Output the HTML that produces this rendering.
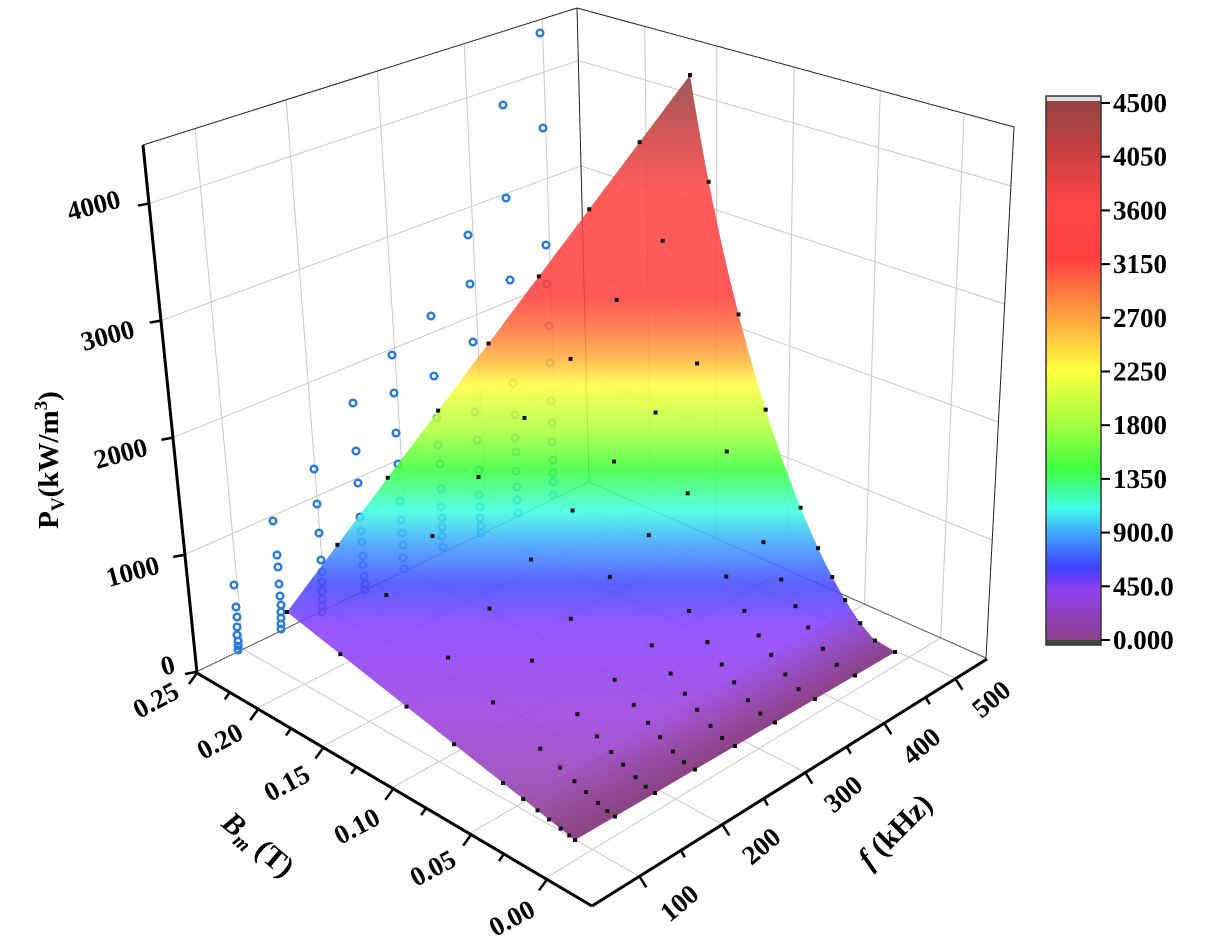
<!DOCTYPE html>
<html><head><meta charset="utf-8"><style>
html,body{margin:0;padding:0;background:#fff;}
svg{display:block;font-family:"Liberation Serif",serif;font-weight:bold;}
</style></head><body>
<svg id="s" width="1208" height="948" viewBox="0 0 1208 948" xmlns="http://www.w3.org/2000/svg">
<defs>
<linearGradient id="surf" gradientUnits="userSpaceOnUse" x1="0" y1="75" x2="0" y2="840">
<stop offset="0" stop-color="#8e4444"/><stop offset="0.072" stop-color="#c84040"/><stop offset="0.15" stop-color="#ff4545"/>
<stop offset="0.29" stop-color="#ff4040"/><stop offset="0.33" stop-color="#ff7040"/><stop offset="0.37" stop-color="#ffb040"/>
<stop offset="0.405" stop-color="#ffff40"/><stop offset="0.464" stop-color="#b0ff40"/><stop offset="0.516" stop-color="#40ff40"/>
<stop offset="0.569" stop-color="#40ffe0"/><stop offset="0.614" stop-color="#40a0ff"/><stop offset="0.667" stop-color="#4848ff"/>
<stop offset="0.725" stop-color="#8a40ff"/><stop offset="0.843" stop-color="#9c40dc"/><stop offset="1" stop-color="#8c4090"/>
</linearGradient>
<linearGradient id="edge" gradientUnits="userSpaceOnUse" x1="735" y1="746" x2="703" y2="692">
<stop offset="0" stop-color="#8a4282" stop-opacity="0.95"/><stop offset="1" stop-color="#8a4282" stop-opacity="0"/>
</linearGradient>
<linearGradient id="cb" x1="0" y1="0" x2="0" y2="1">
<stop offset="0" stop-color="#8e4444"/><stop offset="0.1" stop-color="#c84040"/><stop offset="0.2" stop-color="#ff4545"/>
<stop offset="0.3" stop-color="#ff4040"/><stop offset="0.33" stop-color="#ff6040"/><stop offset="0.4" stop-color="#ffa040"/>
<stop offset="0.5" stop-color="#ffff40"/><stop offset="0.6" stop-color="#a0ff40"/><stop offset="0.68" stop-color="#40ff40"/>
<stop offset="0.75" stop-color="#40ffe8"/><stop offset="0.8" stop-color="#40a0ff"/><stop offset="0.86" stop-color="#4040ff"/>
<stop offset="0.9" stop-color="#9040f0"/><stop offset="1" stop-color="#8a4080"/>
</linearGradient>
</defs>
<g id="grid" stroke="#c8c8c8" stroke-width="1" fill="none"></g>
<g id="box" stroke="#222" stroke-width="1" fill="none">
<line x1="143" y1="145" x2="577" y2="8"/><line x1="577" y1="8" x2="1014" y2="127"/>
<line x1="577" y1="8" x2="589" y2="482"/><line x1="1014" y1="127" x2="986" y2="658"/>
<line x1="196" y1="672" x2="589" y2="482" stroke="#555"/><line x1="589" y1="482" x2="986" y2="658" stroke="#555"/>
</g>
<g id="circ" fill="none" stroke="#2a7be0" stroke-width="2.5"></g>
<g id="surfg"></g>
<g id="dots" fill="#111"></g>
<g id="axes" stroke="#000" stroke-width="3" fill="none">
<line x1="143" y1="145" x2="197" y2="673"/>
<line x1="197" y1="673" x2="592" y2="906"/>
<line x1="592" y1="906" x2="987" y2="659"/>
</g>
<g id="ticks" stroke="#000" stroke-width="2.5"></g>
<g font-size="27" fill="#000">
<text transform="translate(170,674) rotate(-15)" text-anchor="middle">0</text>
<text transform="translate(135,580) rotate(-15)" text-anchor="middle">1000</text>
<text transform="translate(123,462) rotate(-15)" text-anchor="middle">2000</text>
<text transform="translate(110,344) rotate(-15)" text-anchor="middle">3000</text>
<text transform="translate(96,214) rotate(-15)" text-anchor="middle">4000</text>
<text transform="translate(58,460) rotate(-90)" text-anchor="middle" font-size="29">P<tspan font-size="19" dy="6">V</tspan><tspan dy="-6">(kW/m</tspan><tspan font-size="19" dy="-11">3</tspan><tspan dy="11">)</tspan></text>
<text transform="translate(160,708) rotate(-28)" text-anchor="middle">0.25</text>
<text transform="translate(224,749) rotate(-28)" text-anchor="middle">0.20</text>
<text transform="translate(291,791) rotate(-28)" text-anchor="middle">0.15</text>
<text transform="translate(361,834) rotate(-28)" text-anchor="middle">0.10</text>
<text transform="translate(437,876) rotate(-28)" text-anchor="middle">0.05</text>
<text transform="translate(516,926) rotate(-28)" text-anchor="middle">0.00</text>
<text transform="translate(252,852) rotate(40)" text-anchor="middle" font-size="30"><tspan font-style="italic">B</tspan><tspan font-size="20" dy="6" font-style="italic">m</tspan><tspan dy="-6"> (T)</tspan></text>
<text transform="translate(685,910) rotate(-40)" text-anchor="middle">100</text>
<text transform="translate(767,853) rotate(-40)" text-anchor="middle">200</text>
<text transform="translate(849,801) rotate(-40)" text-anchor="middle">300</text>
<text transform="translate(927,753) rotate(-40)" text-anchor="middle">400</text>
<text transform="translate(997,706) rotate(-40)" text-anchor="middle">500</text>
<text transform="translate(902,838) rotate(-45)" text-anchor="middle" font-size="30"><tspan font-style="italic">f</tspan> (kHz)</text>
</g>
<rect x="1046" y="96" width="55" height="549" fill="url(#cb)"/>
<rect x="1046" y="96" width="55" height="5" fill="#ddd"/>
<rect x="1046" y="640" width="55" height="5" fill="#444"/>
<rect x="1046" y="96" width="55" height="549" fill="none" stroke="#333" stroke-width="1.5"/>
<g id="cbt" font-size="27"></g>
</svg>
<script>
var NS="http://www.w3.org/2000/svg";
function el(p,t,a){var e=document.createElementNS(NS,t);for(var k in a)e.setAttribute(k,a[k]);document.getElementById(p).appendChild(e);return e;}
function L(a,b,t){return [a[0]+(b[0]-a[0])*t,a[1]+(b[1]-a[1])*t];}
var Lc=[196,672],F=[590,905],K=[589,482],R=[986,658],Lt=[143,145],Kt=[577,8],Rt=[1014,127];
function floor(u,v){var a=L(Lc,K,v),b=L(F,R,v);return L(a,b,u);}
var vt=[0.12,0.33,0.54,0.74,0.92],ut=[0.155,0.32,0.497,0.694,0.886];
vt.forEach(function(v){var b=floor(0,v),t=L(Lt,Kt,v);el("grid","line",{x1:b[0],y1:b[1],x2:t[0],y2:t[1]});
 var c=floor(1,v);el("grid","line",{x1:b[0],y1:b[1],x2:c[0],y2:c[1]});});
ut.forEach(function(u){var b=floor(u,1),t=L(Kt,Rt,u);el("grid","line",{x1:b[0],y1:b[1],x2:t[0],y2:t[1]});
 var c=floor(u,0);el("grid","line",{x1:b[0],y1:b[1],x2:c[0],y2:c[1]});});
[1,2,3,4].forEach(function(z){var c=z/4.5;var a=L(Lc,Lt,c),b=L(K,Kt,c),r=L(R,Rt,c);
 el("grid","line",{x1:a[0],y1:a[1],x2:b[0],y2:b[1]});el("grid","line",{x1:b[0],y1:b[1],x2:r[0],y2:r[1]});
});
[0,1,2,3,4].forEach(function(z){var p=L(Lc,Lt,z/4.5);el("ticks","line",{x1:p[0],y1:p[1],x2:p[0]-11,y2:p[1]+2});});
[0,0.155,0.32,0.497,0.694,0.886].forEach(function(u,i){var p=L([197,673],[592,906],u);el("ticks","line",{x1:p[0],y1:p[1],x2:p[0]-8,y2:p[1]+11});
 if(i<5){var q=L([197,673],[592,906],u+0.083);el("ticks","line",{x1:q[0],y1:q[1],x2:q[0]-5,y2:q[1]+7});}});
[0.12,0.33,0.54,0.74,0.92].forEach(function(v){var p=L([592,906],[987,659],v);el("ticks","line",{x1:p[0],y1:p[1],x2:p[0]+7,y2:p[1]+11});
 var q=L([592,906],[987,659],v+0.105);if(v<0.9)el("ticks","line",{x1:q[0],y1:q[1],x2:q[0]+4,y2:q[1]+7});});
var cols=[
[[234,585],[236,607],[237,617],[237,627],[237,635],[238,641],[238,646],[238,650]],
[[273,521],[277,555],[278,567],[279,584],[280,596],[281,605],[281,612],[281,618],[281,624],[281,629]],
[[314,469],[317,504],[319,533],[321,560],[322,572],[322,582],[322,591],[322,599],[322,606],[322,612]],
[[353,403],[356,451],[358,483],[360,517],[361,531],[362,542],[363,556],[363,565],[364,576],[365,584],[365,590]],
[[392,355],[394,393],[396,433],[398,464],[400,501],[401,520],[402,533],[403,545],[403,558],[404,569]],
[[431,316],[434,376],[437,418],[438,445],[440,464],[441,489],[441,507],[442,518],[442,527],[442,536],[443,547]],
[[468,235],[470,284],[473,342],[475,412],[477,440],[479,470],[479,495],[480,507],[480,518],[481,526],[481,533]],
[[503,105],[506,198],[510,280],[513,383],[515,415],[515,438],[516,452],[516,471],[517,487],[517,500],[518,513]],
[[540,33],[543,128],[546,245],[547,284],[549,326],[550,363],[551,401],[552,423],[552,442],[553,460],[553,473],[553,482],[553,495]]];
cols.forEach(function(c){c.forEach(function(p){el("circ","circle",{cx:p[0],cy:p[1],r:3.3});});});
var A=[287,612],T=[690,75],Fs=[575,840],Rs=[895,652];
function S(s,t){var a=L(A,T,s),b=L(Fs,Rs,s),p=L(a,b,t);p[0]-=s*115*t*Math.sqrt(Math.max(0,1-t));return p;}
var pts=[],i,n=40;
for(i=0;i<=n;i++)pts.push(S(i/n,0));
for(i=0;i<=n;i++)pts.push(S(1,i/n));
for(i=n;i>=0;i--)pts.push(S(i/n,1));
for(i=n;i>=0;i--)pts.push(S(0,i/n));
var d=pts.map(function(p,j){return (j?"L":"M")+p[0].toFixed(1)+" "+p[1].toFixed(1);}).join("")+"Z";
el("surfg","path",{d:d,fill:"url(#surf)","fill-opacity":"0.88"});
el("surfg","path",{d:d,fill:"url(#edge)"});
var tv=[0,0.185,0.415,0.58,0.75,0.82,0.87,0.91,0.95,0.98,1];
for(i=0;i<9;i++){var s=i/8;tv.forEach(function(t){var p=S(s,t);el("dots","rect",{x:p[0]-2,y:p[1]-2,width:4,height:4});});}
var lab=["4500","4050","3600","3150","2700","2250","1800","1350","900.0","450.0","0.000"];
lab.forEach(function(l,k){var y=103+k*53.7;el("cbt","line",{x1:1101,y1:y,x2:1110,y2:y,stroke:"#000","stroke-width":2});
 var t=el("cbt","text",{x:1113,y:y+9});t.textContent=l;});
</script>
</body></html>
